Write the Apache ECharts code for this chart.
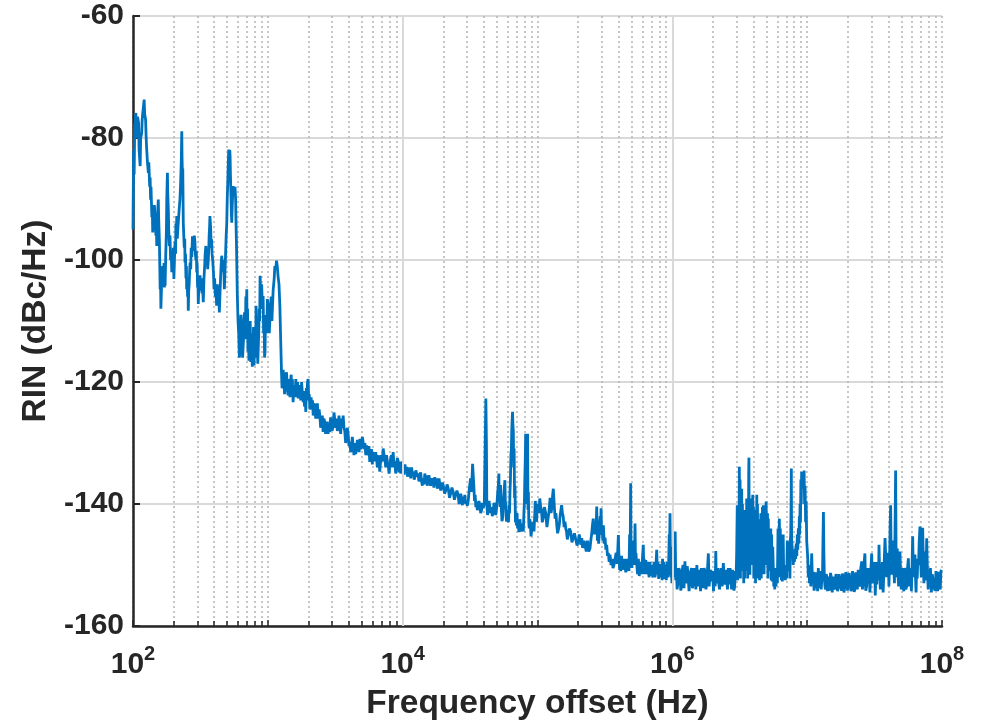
<!DOCTYPE html>
<html>
<head>
<meta charset="utf-8">
<script src="https://cdn.jsdelivr.net/npm/echarts@6/dist/echarts.min.js"></script>
<style>
html,body{margin:0;padding:0;background:#fff;}
#chart{width:987px;height:726px;}
</style>
</head>
<body>
<div id="chart"></div>
<script>
// [frequency offset (Hz), RIN (dBc/Hz)], one array per decade
const decade2 = [[100,-95],[101,-82],[102,-86],[103,-78],[105,-75.9],[106,-80],[107,-79],[108,-76.5],[110,-77.5],[111,-82],[113,-84.6],[114,-80],[116,-79.2],[117,-77],[118,-76],[120,-74.5],[121,-73.7],[122,-76],[124,-77],[125,-79.5],[126,-81.4],[128,-84],[130,-85.7],[131,-84],[133,-88],[134,-86.5],[135,-90.1],[136,-88],[138,-93],[139,-91],[140,-95.5],[141,-92.5],[143,-94],[144,-91],[146,-92.8],[147,-95],[148,-96],[149,-93.5],[150,-97.7],[151,-95],[152,-94],[153,-91.5],[154,-90.1],[155,-93],[157,-97],[158,-101],[159,-104.8],[160,-103],[161,-108],[163,-104],[165,-103],[166,-101],[168,-102.6],[170,-100.5],[171,-104.5],[172,-102],[173,-104.2],[175,-99],[177,-95],[178,-90],[180,-85.7],[181,-89],[183,-92],[184,-95],[186,-97.7],[188,-96],[190,-100],[192,-98.5],[194,-102],[196,-99],[197,-100.5],[199,-98],[201,-103.1],[203,-100],[205,-97],[207,-99],[208,-94],[210,-96],[211,-92.8],[213,-96.5],[215,-95],[218,-93],[220,-91.7],[223,-90],[225,-88],[228,-84],[230,-78.9],[231,-83],[233,-87],[234,-85],[236,-93.9],[238,-96],[240,-98],[242,-96.5],[243,-100.4],[245,-99],[247,-103],[249,-101],[250,-104.8],[252,-103],[254,-106],[256,-104],[257,-108.3],[259,-105],[261,-104],[263,-102],[265,-100.4],[268,-101.5],[270,-98],[273,-99.5],[276,-96.1],[279,-97],[282,-98.5],[285,-96],[288,-97.1],[290,-99],[293,-100],[295,-98.5],[297,-102],[299,-100.5],[301,-104.5],[303,-103],[305,-107.2],[308,-104],[311,-105],[314,-102.5],[318,-104.2],[321,-103],[325,-105.5],[328,-104],[332,-106.9],[336,-103],[340,-101],[343,-99],[347,-97.7],[350,-100],[354,-99],[358,-101.5],[362,-99.9],[365,-98],[367,-96],[370,-94.5],[372,-92.8],[375,-94],[377,-95],[380,-98],[383,-96.6],[386,-99],[390,-100],[395,-102],[399,-104.8],[403,-103],[408,-106],[412,-104.5],[417,-107.5],[422,-104],[427,-106.5],[432,-105],[437,-108.6],[441,-106],[446,-103],[450,-101],[455,-99.3],[460,-100.5],[465,-102],[470,-100],[476,-104.8],[481,-102],[486,-99],[491,-96],[496,-93.9],[500,-90],[505,-87],[509,-84],[513,-81.9],[516,-83],[519,-84],[522,-82],[525,-83],[528,-86],[532,-89],[536,-92],[540,-93.9],[544,-91.5],[547,-90],[550,-88.5],[554,-87.9],[559,-88.5],[565,-89],[571,-88],[577,-90.1],[581,-94],[586,-98],[590,-102],[594,-105.9],[601,-110],[608,-112],[615,-116],[622,-115.1],[631,-109],[640,-111],[650,-116],[660,-113],[668,-109],[676,-108.6],[681,-113],[687,-106],[692,-110],[698,-104.8],[702,-112],[707,-108],[712,-115],[717,-111.3],[724,-116.5],[732,-114],[740,-110],[747,-116.7],[753,-112],[760,-114],[767,-117.5],[775,-116],[783,-111],[791,-117.3],[798,-113],[805,-112],[811,-116],[818,-107.5],[826,-116],[834,-113],[842,-117],[850,-117.3],[856,-112],[863,-108],[870,-110],[876,-102.6],[888,-106],[900,-104],[911,-108],[923,-105.9],[930,-112],[938,-110],[946,-116],[953,-115.1],[962,-109],[972,-110],[982,-112],[992,-106.4]];

const decade3 = [[1010,-108],[1025,-112],[1035,-111.8],[1050,-107],[1060,-106],[1072,-110],[1083,-109.7],[1095,-105],[1105,-104],[1115,-103],[1127,-101],[1145,-101.5],[1160,-100.1],[1175,-101],[1190,-102.6],[1210,-104],[1228,-107.5],[1245,-113],[1263,-118.4],[1275,-121],[1290,-120.6],[1300,-118],[1314,-119.5],[1330,-122],[1345,-121],[1360,-119],[1376,-118.4],[1395,-121],[1414,-122.2],[1430,-119.5],[1445,-121],[1460,-122.5],[1473,-120],[1490,-118.8],[1505,-121.5],[1520,-119.5],[1540,-123.3],[1557,-120.5],[1575,-121],[1595,-122.5],[1613,-119.5],[1630,-122.5],[1645,-121.5],[1662,-120],[1680,-122.7],[1705,-120.5],[1730,-121.5],[1755,-123],[1780,-120],[1805,-122],[1830,-123.3],[1850,-121.5],[1870,-124],[1890,-122.5],[1913,-124.9],[1930,-121],[1950,-122],[1970,-120],[1990,-119.5],[2010,-123],[2030,-122],[2050,-124.5],[2070,-123.8],[2095,-122.5],[2120,-124.5],[2145,-123],[2170,-125.5],[2200,-123.5],[2235,-124],[2265,-126],[2300,-124.4],[2330,-123.5],[2365,-126],[2400,-124.5],[2430,-125.5],[2465,-127.5],[2500,-127],[2535,-125.5],[2570,-128.2],[2605,-126],[2640,-126.5],[2680,-128.5],[2720,-127.6],[2760,-126.5],[2800,-128.5],[2840,-127],[2880,-128.2],[2920,-125.8],[2960,-126],[3000,-128],[3050,-127.1],[3095,-125],[3140,-125],[3185,-127.5],[3230,-126],[3275,-128],[3320,-127.5],[3370,-125.5],[3420,-127.1],[3470,-128.5],[3520,-126],[3570,-127.5],[3620,-125.5],[3670,-127.5],[3720,-128],[3775,-130],[3830,-129.3],[3885,-127.5],[3940,-128.5],[4000,-130.5],[4060,-129.8],[4115,-131.5],[4170,-131],[4230,-129],[4290,-130.4],[4355,-132],[4420,-130],[4485,-131.8],[4550,-131.5],[4615,-129.5],[4680,-130],[4750,-131.5],[4820,-129.3],[4885,-131],[4950,-130.5],[5025,-129],[5100,-128.7],[5175,-131],[5250,-130],[5325,-132],[5400,-130.4],[5475,-131.5],[5550,-132],[5625,-130.5],[5700,-133.1],[5785,-132],[5870,-131],[5955,-133.5],[6040,-131.5],[6130,-133],[6220,-133],[6310,-131.5],[6400,-132.5],[6490,-134],[6580,-133.5],[6670,-132],[6760,-134.7],[6860,-133],[6960,-132],[7065,-133],[7170,-130.9],[7275,-132],[7380,-132.5],[7485,-134],[7590,-132],[7700,-133],[7810,-133.5],[7925,-135],[8040,-133.6],[8155,-132.5],[8270,-132],[8385,-134],[8500,-131.5],[8625,-133.5],[8750,-133],[8875,-135],[9000,-134.7],[9135,-132.5],[9270,-133],[9410,-134.8],[9550,-133.1],[9675,-135],[9800,-134.5],[9900,-133]];

const decade4 = [[10100,-134.2],[10250,-135.2],[10400,-133.5],[10550,-134.8],[10700,-133.9],[10850,-135.5],[11000,-135],[11150,-134],[11300,-134.7],[11480,-135.8],[11650,-134],[11820,-135.2],[12000,-134.7],[12170,-136],[12350,-135.5],[12520,-134.5],[12700,-134.2],[12850,-135.5],[13000,-135],[13200,-136.3],[13400,-135.3],[13600,-134.8],[13800,-136.2],[14000,-137],[14200,-135.8],[14400,-136.8],[14600,-135],[14800,-136.3],[15000,-135.3],[15200,-137],[15400,-136.3],[15650,-135.3],[15900,-135.5],[16100,-137],[16300,-136.5],[16550,-135.8],[16800,-136.4],[17050,-137.3],[17300,-135.6],[17550,-137],[17800,-135.8],[18050,-137.5],[18300,-136.8],[18600,-135.8],[18900,-136.1],[19150,-137.8],[19400,-137.2],[19700,-136.5],[20000,-136.9],[20450,-138.3],[20900,-137.8],[21350,-136.8],[21800,-137.5],[22250,-139],[22700,-138.3],[23200,-137.3],[23700,-138],[24200,-139.3],[24700,-139],[25250,-137.8],[25800,-138.5],[26200,-140],[26600,-139.3],[27000,-138.3],[27400,-139.6],[27750,-140.2],[28100,-138.8],[28500,-139.8],[28900,-138.5],[29300,-140],[29700,-139.5],[30150,-140.3],[30600,-139.6],[31200,-137.5],[31900,-135.8],[32400,-138],[33000,-133.4],[33700,-136.9],[34100,-139.5],[34500,-138.5],[34900,-140.5],[35300,-139.6],[35800,-141],[36300,-140.5],[36800,-139.5],[37400,-140.2],[37900,-141.5],[38500,-141],[39000,-139.8],[39600,-140.7],[40300,-140],[40900,-140.2],[41400,-122.7],[41800,-130],[42100,-140.2],[42600,-141.8],[43200,-141],[43700,-139.5],[44300,-139.6],[44900,-141.5],[45600,-140.5],[46200,-142],[46900,-141.3],[47600,-139.8],[48300,-140],[49000,-141.8],[49700,-140.7],[50200,-139.5],[50700,-138],[51200,-137],[51700,-135],[52000,-139],[52400,-138],[52800,-140.5],[53200,-136.9],[53600,-139],[54000,-141],[54500,-142.8],[55000,-142.4],[55600,-140.5],[56200,-139],[56700,-137.5],[57300,-136.1],[57700,-139.5],[58100,-140],[58500,-142],[59000,-142.9],[59600,-141],[60300,-141.5],[60900,-143],[61600,-140.2],[62000,-141.5],[62500,-138],[63000,-136],[63500,-132],[64000,-131],[64400,-128],[64900,-126],[65300,-124.9],[65700,-127],[66200,-128],[66600,-134],[67100,-130.9],[67600,-139],[68100,-137],[68600,-143],[69100,-142.4],[69800,-143.5],[70500,-141.5],[71200,-144],[71900,-143.4],[72900,-144.6],[74000,-142.5],[75100,-144],[76200,-144.5],[76900,-143.2],[77700,-143],[78500,-144.5],[79300,-141.3],[79900,-140],[80500,-136],[81100,-133],[81700,-128.5],[82300,-140],[83000,-128.5],[83700,-136],[84400,-128.5],[85000,-141],[85600,-138],[86200,-143],[86800,-144],[87700,-142.5],[88600,-143.5],[89500,-145.3],[90400,-145.1],[91600,-143.5],[92800,-143],[94200,-144.5],[95600,-141.3],[96300,-139.5],[97000,-140.5],[97700,-142.5],[98500,-142.9],[99300,-141]];

const decade5 = [[101000,-140],[102500,-141.5],[104000,-139.1],[105500,-140.5],[107000,-141],[108500,-143],[110000,-142.4],[112500,-140.5],[115000,-141.5],[117500,-143.8],[120000,-143.5],[122000,-141],[124000,-139],[126000,-141.5],[128000,-140.5],[129500,-138.5],[131000,-137.5],[133000,-140],[135000,-142.4],[137000,-141.5],[139000,-143.5],[141000,-144.8],[143000,-145.1],[145000,-143.5],[147000,-142],[149000,-141],[151000,-140.2],[153000,-141.5],[155000,-142],[157500,-143.8],[160000,-142.9],[162000,-144],[164000,-144.5],[166500,-145.8],[169000,-145.6],[172500,-144],[176000,-144.5],[180000,-146.3],[184000,-146.1],[188000,-144.8],[192000,-145],[196500,-146.8],[201000,-146.1],[204000,-145],[207000,-145],[210000,-146.7],[213000,-145.6],[216000,-147.2],[219000,-147],[222000,-146],[225000,-146.8],[230000,-147.8],[235000,-146],[240000,-147.8],[245000,-147.3],[248500,-146],[252000,-145],[255500,-143.5],[259000,-142.4],[263000,-145],[267000,-143],[271000,-145],[275000,-140.4],[278000,-146],[281000,-144],[284000,-146.5],[287000,-145.1],[289500,-143],[292000,-142],[294000,-145],[296000,-140.7],[299000,-145],[302000,-144],[305000,-146],[308000,-143.5],[312500,-146.5],[317000,-145.5],[321500,-147.5],[326000,-146.7],[330500,-148.5],[335000,-148],[340000,-149.5],[345000,-148.3],[351000,-150],[357000,-149],[363000,-150.5],[369000,-150],[376000,-149],[383000,-148],[390000,-149.8],[398000,-145.1],[401000,-148],[404000,-149],[406500,-150.8],[409000,-150],[414500,-151],[420000,-148.5],[426000,-150.8],[432000,-150.5],[438500,-149],[445000,-150],[451500,-151.2],[458000,-149],[465000,-151],[472000,-149.5],[477000,-151],[482000,-145],[486500,-148],[491000,-136.6],[494500,-149],[498000,-146],[501500,-150.5],[505000,-148.5],[511000,-150],[517000,-146],[523000,-150],[529000,-143.2],[533000,-149.5],[537000,-148],[545000,-150],[552000,-151.5],[560000,-149],[568000,-151.8],[577000,-150.5],[585000,-149.5],[593000,-151.5],[600000,-149],[609000,-146.7],[614000,-150.5],[618000,-149],[622000,-151.5],[627000,-150.5],[636000,-149.2],[645000,-151.5],[654000,-149.5],[663000,-151],[673000,-152],[683000,-149.5],[693000,-151.8],[703000,-150],[711000,-151.2],[719000,-152],[727000,-150],[735000,-149.5],[742000,-152],[750000,-151.5],[758000,-149.5],[766000,-147.5],[771000,-150],[776000,-151.5],[781000,-149.5],[786000,-150.5],[792000,-152.3],[798000,-152],[804000,-149.8],[810000,-149.5],[816000,-152],[822000,-152.2],[828000,-150],[835000,-151],[840000,-152.5],[846000,-149],[852000,-152],[858000,-151.5],[864000,-149.5],[870000,-150],[876000,-152.3],[882000,-152],[888000,-150],[895000,-150],[901000,-152.5],[908000,-152.2],[914000,-150],[920000,-149.5],[927000,-152],[935000,-151.5],[941000,-149],[948000,-145],[955000,-146],[961000,-141.5],[968000,-149],[975000,-147],[981000,-152],[986000,-151],[993000,-153]];

const decade6 = [[1.000e6,-149.5],[1.015e6,-152],[1.03e6,-146],[1.04e6,-151],[1.05e6,-144.5],[1.06e6,-152.5],[1.07e6,-150.5],[1.085e6,-154],[1.10e6,-153],[1.12e6,-150.5],[1.14e6,-151.3],[1.155e6,-154.2],[1.17e6,-153.5],[1.185e6,-150.8],[1.20e6,-150],[1.22e6,-153.8],[1.24e6,-149.4],[1.255e6,-152.5],[1.27e6,-153],[1.29e6,-150.2],[1.31e6,-151.6],[1.33e6,-154.3],[1.35e6,-154],[1.37e6,-151],[1.39e6,-150.5],[1.41e6,-153.8],[1.43e6,-153],[1.45e6,-150.5],[1.47e6,-151],[1.495e6,-154],[1.52e6,-150],[1.54e6,-152.8],[1.56e6,-153.5],[1.58e6,-150.8],[1.60e6,-152.2],[1.62e6,-154.3],[1.64e6,-150.5],[1.665e6,-152.5],[1.69e6,-153.8],[1.72e6,-150.5],[1.75e6,-151.1],[1.775e6,-154],[1.80e6,-153],[1.825e6,-150.5],[1.85e6,-148.1],[1.875e6,-153.5],[1.90e6,-152],[1.93e6,-150.8],[1.96e6,-152.7],[1.99e6,-151],[2.02e6,-154.3],[2.04e6,-152],[2.06e6,-151],[2.08e6,-153.5],[2.10e6,-147.7],[2.12e6,-153],[2.14e6,-152],[2.165e6,-150.5],[2.19e6,-151.6],[2.215e6,-153.2],[2.24e6,-154],[2.265e6,-151.5],[2.29e6,-150.5],[2.315e6,-152.8],[2.34e6,-153.5],[2.365e6,-151.2],[2.39e6,-149.7],[2.42e6,-152],[2.45e6,-153.2],[2.49e6,-150.8],[2.53e6,-152.2],[2.565e6,-154],[2.60e6,-150.5],[2.64e6,-153.2],[2.68e6,-150.5],[2.715e6,-152.2],[2.75e6,-154],[2.79e6,-150.8],[2.83e6,-151.6],[2.865e6,-154.2],[2.90e6,-153.5],[2.935e6,-151],[2.97e6,-152.2],[3.00e6,-148],[3.03e6,-140.2],[3.05e6,-152.5],[3.07e6,-141],[3.10e6,-145],[3.12e6,-150],[3.14e6,-133.9],[3.16e6,-146],[3.18e6,-136],[3.20e6,-152.2],[3.22e6,-141],[3.24e6,-143],[3.255e6,-151],[3.27e6,-137.5],[3.29e6,-149],[3.31e6,-140],[3.335e6,-150],[3.36e6,-142.4],[3.385e6,-153],[3.41e6,-141],[3.435e6,-152.2],[3.46e6,-144],[3.485e6,-151],[3.51e6,-145],[3.535e6,-150.5],[3.56e6,-139.1],[3.58e6,-150],[3.60e6,-141],[3.62e6,-152.2],[3.64e6,-143],[3.665e6,-151],[3.685e6,-135],[3.70e6,-132.4],[3.715e6,-145],[3.73e6,-150],[3.745e6,-141],[3.76e6,-151.6],[3.785e6,-139.1],[3.81e6,-149],[3.845e6,-140],[3.88e6,-150],[3.915e6,-141],[3.95e6,-138.5],[3.975e6,-147],[4.00e6,-140.5],[4.02e6,-152.2],[4.06e6,-142],[4.08e6,-151],[4.11e6,-144.5],[4.14e6,-153],[4.17e6,-141],[4.20e6,-150.5],[4.23e6,-138.5],[4.255e6,-150],[4.28e6,-140],[4.31e6,-152.2],[4.34e6,-142.5],[4.37e6,-150],[4.40e6,-146],[4.435e6,-152.5],[4.47e6,-143.4],[4.50e6,-151],[4.53e6,-141.5],[4.565e6,-152.2],[4.60e6,-144],[4.63e6,-150.5],[4.66e6,-140.5],[4.70e6,-149],[4.73e6,-140.2],[4.79e6,-151.5],[4.85e6,-141],[4.905e6,-150],[4.96e6,-139.6],[5.02e6,-148],[5.08e6,-141.5],[5.115e6,-152.2],[5.15e6,-142.4],[5.20e6,-151],[5.25e6,-144],[5.31e6,-150.5],[5.37e6,-144],[5.41e6,-152.5],[5.45e6,-145],[5.50e6,-152.7],[5.555e6,-147],[5.61e6,-150.5],[5.655e6,-153.5],[5.70e6,-151],[5.75e6,-154],[5.80e6,-150.5],[5.875e6,-153.5],[5.95e6,-151.6],[6.01e6,-153],[6.08e6,-144],[6.15e6,-152],[6.22e6,-142.4],[6.27e6,-151],[6.32e6,-144],[6.36e6,-152],[6.40e6,-145.1],[6.44e6,-152.5],[6.48e6,-146],[6.55e6,-152.7],[6.60e6,-146.2],[6.64e6,-145],[6.70e6,-152],[6.80e6,-150],[6.89e6,-152.5],[6.98e6,-150],[7.05e6,-152.2],[7.12e6,-146],[7.21e6,-151],[7.30e6,-146.2],[7.35e6,-150],[7.40e6,-147],[7.45e6,-152.2],[7.50e6,-146],[7.55e6,-145],[7.60e6,-140],[7.63e6,-134.2],[7.67e6,-147],[7.70e6,-146],[7.76e6,-149],[7.82e6,-147.8],[7.88e6,-150],[7.95e6,-148],[8.04e6,-149.5],[8.13e6,-147.3],[8.22e6,-149],[8.30e6,-146.5],[8.38e6,-148.5],[8.45e6,-145],[8.52e6,-147.5],[8.60e6,-144],[8.68e6,-146.5],[8.75e6,-142],[8.80e6,-145],[8.86e6,-140],[8.92e6,-143],[8.98e6,-136],[9.04e6,-140],[9.10e6,-134.7],[9.20e6,-137],[9.30e6,-135],[9.40e6,-137.5],[9.49e6,-134.5],[9.57e6,-140],[9.65e6,-137],[9.74e6,-143],[9.83e6,-139.6],[9.92e6,-146]];

const decade7 = [[1.01e7,-148.9],[1.02e7,-152],[1.03e7,-150],[1.04e7,-153],[1.05e7,-150.5],[1.065e7,-153.5],[1.08e7,-148.1],[1.095e7,-153],[1.11e7,-151.1],[1.125e7,-154.2],[1.14e7,-153.5],[1.16e7,-151.2],[1.18e7,-152.2],[1.195e7,-154.3],[1.21e7,-150.5],[1.225e7,-153.8],[1.24e7,-152.2],[1.255e7,-151],[1.27e7,-154],[1.285e7,-152.5],[1.30e7,-151.6],[1.31e7,-146],[1.32e7,-141.3],[1.33e7,-148],[1.34e7,-151.6],[1.355e7,-153.5],[1.37e7,-154],[1.385e7,-151.5],[1.40e7,-152],[1.415e7,-154.3],[1.43e7,-151.9],[1.45e7,-153],[1.47e7,-154.2],[1.49e7,-151.3],[1.51e7,-152],[1.535e7,-154.5],[1.56e7,-151.9],[1.585e7,-153.5],[1.61e7,-154],[1.635e7,-151.5],[1.66e7,-152],[1.68e7,-154.3],[1.70e7,-153.8],[1.725e7,-151.5],[1.75e7,-151.6],[1.775e7,-153.5],[1.80e7,-154.2],[1.825e7,-151.4],[1.85e7,-152],[1.875e7,-154.5],[1.90e7,-153.5],[1.93e7,-151.2],[1.96e7,-151.6],[1.99e7,-154.2],[2.02e7,-154],[2.05e7,-151.3],[2.08e7,-151.5],[2.11e7,-154.3],[2.14e7,-153.8],[2.17e7,-151],[2.20e7,-151.1],[2.23e7,-154.4],[2.26e7,-154],[2.29e7,-151.2],[2.32e7,-151.5],[2.355e7,-154],[2.39e7,-150.8],[2.425e7,-153],[2.46e7,-153.5],[2.50e7,-150.5],[2.54e7,-149.4],[2.57e7,-154],[2.60e7,-153],[2.64e7,-150],[2.68e7,-148.1],[2.72e7,-154.2],[2.76e7,-153.5],[2.80e7,-150.5],[2.84e7,-152.2],[2.88e7,-150.5],[2.92e7,-154.5],[2.965e7,-151],[3.01e7,-148.1],[3.04e7,-152.5],[3.07e7,-153],[3.10e7,-150.5],[3.13e7,-152.2],[3.165e7,-149.5],[3.20e7,-155],[3.24e7,-151],[3.28e7,-153.2],[3.315e7,-149.5],[3.35e7,-150],[3.38e7,-152.5],[3.41e7,-146.7],[3.45e7,-151.5],[3.49e7,-154],[3.53e7,-150],[3.57e7,-152.2],[3.615e7,-149.5],[3.66e7,-154.5],[3.72e7,-150],[3.78e7,-145.6],[3.83e7,-149],[3.88e7,-152],[3.94e7,-148],[4.00e7,-148.9],[4.04e7,-153.5],[4.08e7,-150],[4.12e7,-144],[4.16e7,-140.2],[4.20e7,-149],[4.25e7,-151.6],[4.30e7,-146],[4.35e7,-147.8],[4.40e7,-151],[4.44e7,-153],[4.48e7,-145],[4.53e7,-134.5],[4.565e7,-148],[4.60e7,-152],[4.63e7,-148],[4.66e7,-147.3],[4.71e7,-151.5],[4.77e7,-153.5],[4.82e7,-149.5],[4.88e7,-147.8],[4.935e7,-152],[4.99e7,-154],[5.05e7,-151],[5.11e7,-150.5],[5.16e7,-153.5],[5.21e7,-154.3],[5.27e7,-150.5],[5.32e7,-151.1],[5.39e7,-154],[5.47e7,-153.5],[5.55e7,-150.5],[5.63e7,-148.9],[5.71e7,-153.5],[5.80e7,-152.2],[5.865e7,-150.5],[5.93e7,-154.3],[6.00e7,-150],[6.06e7,-145.3],[6.12e7,-150.5],[6.18e7,-152],[6.24e7,-149.5],[6.30e7,-148.3],[6.36e7,-152],[6.42e7,-154.5],[6.48e7,-150.5],[6.55e7,-152.2],[6.62e7,-149],[6.70e7,-150],[6.78e7,-146],[6.86e7,-143.7],[6.94e7,-149],[7.02e7,-152],[7.10e7,-146],[7.19e7,-143.9],[7.26e7,-149],[7.34e7,-153],[7.41e7,-149.5],[7.49e7,-147.8],[7.55e7,-152],[7.60e7,-152.5],[7.65e7,-149],[7.70e7,-145.6],[7.80e7,-151],[7.90e7,-154],[7.99e7,-151],[8.08e7,-152.2],[8.21e7,-150.5],[8.34e7,-154.5],[8.47e7,-151.5],[8.60e7,-151.6],[8.75e7,-153.8],[8.90e7,-154.2],[9.02e7,-151],[9.15e7,-152],[9.27e7,-154.3],[9.40e7,-151.1],[9.55e7,-153.5],[9.70e7,-154],[9.82e7,-151],[9.95e7,-150.8]];

const yTicks = [-160, -140, -120, -100, -80, -60];
const xLabelExponents = [2, 4, 6, 8];
const solidGridFreqs = [1e4, 1e6];

const rinData = [].concat(decade2, decade3, decade4, decade5, decade6, decade7);

const TXT = '#262626';
const FONT = '"Liberation Sans", Arial, Helvetica, sans-serif';

const chart = echarts.init(document.getElementById('chart'), null, {renderer: 'canvas'});
chart.setOption({
  animation: false,
  backgroundColor: '#ffffff',
  grid: {left: 133, right: 45, top: 16, bottom: 98, containLabel: false},
  xAxis: {
    type: 'log',
    logBase: 10,
    min: 100,
    max: 1e8,
    name: 'Frequency offset (Hz)',
    nameLocation: 'middle',
    nameGap: 61,
    nameTextStyle: {fontFamily: FONT, fontSize: 33.5, fontWeight: 'bold', color: TXT},
    axisLine: {show: true, onZero: false, lineStyle: {color: TXT, width: 2.5}},
    axisTick: {show: true, inside: true, length: 6, lineStyle: {color: TXT, width: 1.5}},
    minorTick: {show: true, splitNumber: 9, length: 5, lineStyle: {color: TXT, width: 1.5}},
    splitLine: {show: true, lineStyle: {color: '#b4b4b4', width: 1.5, type: [2, 3]}},
    minorSplitLine: {show: true, lineStyle: {color: '#b4b4b4', width: 1.5, type: [2, 3]}},
    axisLabel: {
      margin: 18,
      formatter: function (v) {
        const e = Math.round(Math.log10(v));
        return xLabelExponents.indexOf(e) >= 0 ? '{b|10}{s|' + e + '}' : '';
      },
      rich: {
        b: {fontFamily: FONT, fontSize: 30, fontWeight: 'bold', color: TXT, lineHeight: 36, verticalAlign: 'bottom'},
        s: {fontFamily: FONT, fontSize: 20, fontWeight: 'bold', color: TXT, lineHeight: 20, verticalAlign: 'top'}
      }
    }
  },
  yAxis: {
    type: 'value',
    min: yTicks[0],
    max: yTicks[yTicks.length - 1],
    interval: 20,
    name: 'RIN (dBc/Hz)',
    nameLocation: 'middle',
    nameGap: 70,
    nameTextStyle: {fontFamily: FONT, fontSize: 33.5, fontWeight: 'bold', color: TXT},
    axisLine: {show: true, lineStyle: {color: TXT, width: 2.5}},
    axisTick: {show: true, inside: true, length: 7, lineStyle: {color: TXT, width: 2}},
    splitLine: {show: true, lineStyle: {color: '#d9d9d9', width: 2}},
    axisLabel: {margin: 9, fontFamily: FONT, fontSize: 30, fontWeight: 'bold', color: TXT}
  },
  series: [
    {
      type: 'line',
      name: 'grid',
      data: [[100, -160]],
      showSymbol: false,
      silent: true,
      z: 1,
      lineStyle: {width: 0},
      markLine: {
        silent: true,
        symbol: ['none', 'none'],
        label: {show: false},
        lineStyle: {color: '#d9d9d9', width: 2, type: 'solid'},
        data: solidGridFreqs.map(f => ({xAxis: f}))
      }
    },
    {
      type: 'line',
      name: 'RIN',
      data: rinData,
      showSymbol: false,
      z: 3,
      lineStyle: {color: '#0072BD', width: 2.8},
      itemStyle: {color: '#0072BD'}
    }
  ]
});
</script>
</body>
</html>
